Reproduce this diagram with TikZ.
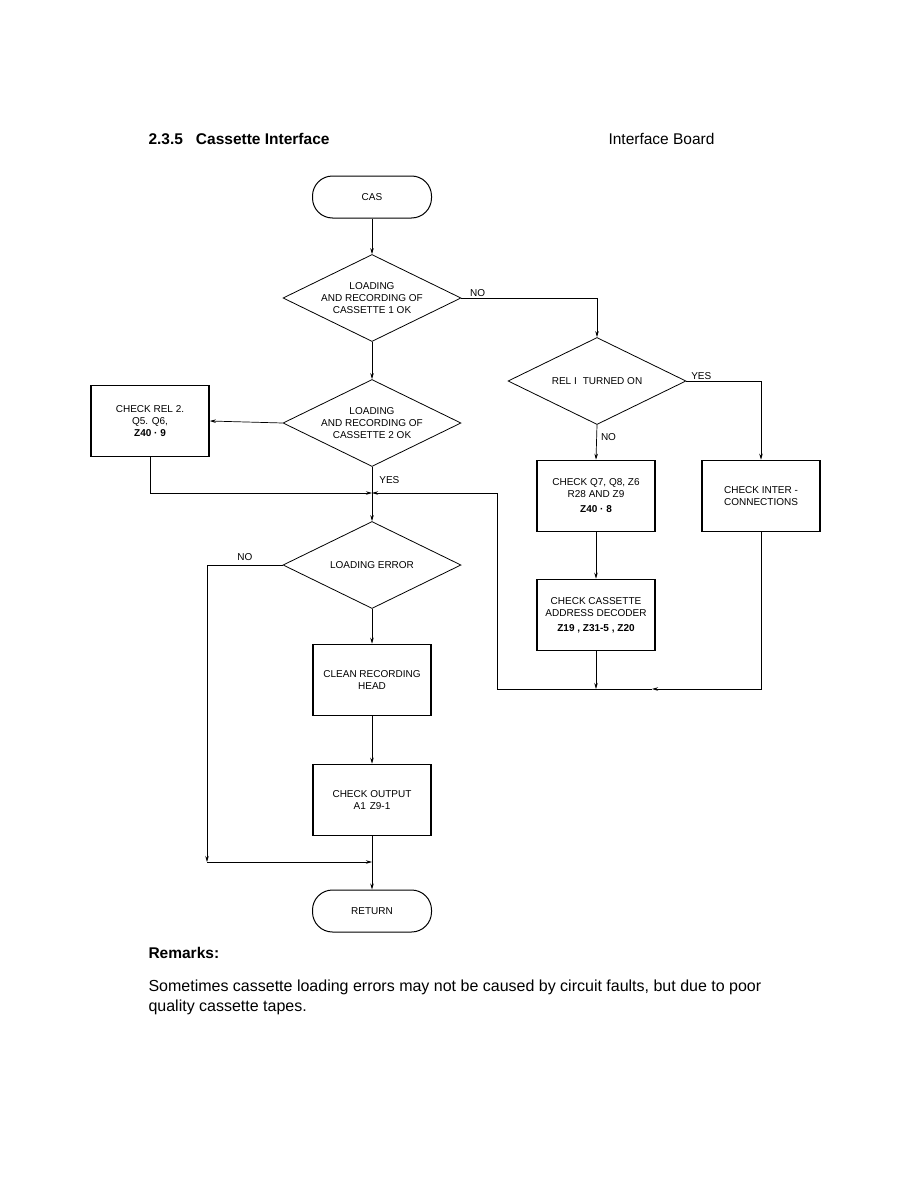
\documentclass[tikz,border=0pt]{standalone}
\usepackage{fontspec}
\setmainfont{Liberation Sans}
\usetikzlibrary{shapes.geometric, arrows.meta}

\begin{document}
\begin{tikzpicture}[x=1pt, y=-1pt,
        flow/.style={line width=0.7pt, -{Stealth[length=6pt, width=3.5pt]}},
        chart/.style={font=\fontsize{10}{12}\selectfont, align=center},
        term/.style={chart, draw, line width=1pt, rounded corners=20pt,
            minimum width=119pt, minimum height=42pt},
        decide/.style={chart, draw, line width=0.8pt, shape=diamond, aspect=2,
            minimum width=178pt, minimum height=87pt, inner sep=0pt},
        task/.style={chart, draw, line width=1.6pt, inner sep=1pt,
            minimum width=118pt, minimum height=71pt},
        lbl/.style={font=\fontsize{10}{12}\selectfont, inner sep=1pt}
    ]
    % 1. Oldal keret
    \useasboundingbox (0,0) rectangle (918,1188);

    % 2. Fejlec
    \node[anchor=west, font=\fontsize{15.5}{18}\selectfont\bfseries] (title) at (145,139)
        {2.3.5\hspace{13pt}Cassette Interface};
    \node[anchor=west, font=\fontsize{15.5}{18}\selectfont] (board) at (605,139) {Interface Board};

    % 3. Bal oszlop (fo ag)
    \node[term] (cas) at (372,197) {CAS};
    \node[decide] (load1) at (372,298) {LOADING\\AND RECORDING OF\\CASSETTE 1 OK};
    \node[decide] (load2) at (372,423) {LOADING\\AND RECORDING OF\\CASSETTE 2 OK};
    \node[task] (rel2) at (150,421) {CHECK REL 2.\\Q5. Q6,\\\textbf{Z40 · 9}};
    \node[decide] (lerr) at (372,565) {LOADING ERROR};
    \node[task] (clean) at (372,680) {CLEAN RECORDING\\HEAD};
    \node[task] (out) at (372,800) {CHECK OUTPUT\\A1\hspace{4pt}Z9-1};
    \node[term] (ret) at (372,911) {RETURN};

    % 4. Jobb oszlop
    \node[decide] (rel1) at (597,381) {REL I\hspace{6pt}TURNED ON};
    \node[task] (qchk) at (596,496) {CHECK Q7, Q8, Z6\\R28 AND Z9\\[3pt]\textbf{Z40 · 8}};
    \node[task] (inter) at (761,496) {CHECK INTER -\\CONNECTIONS};
    \node[task] (dec) at (596,615) {CHECK CASSETTE\\ADDRESS DECODER\\[3pt]\textbf{Z19 , Z31-5 , Z20}};

    % 5. Segedpontok
    \coordinate (mergeA) at (372,493);
    \coordinate (backup) at (497,493);
    \coordinate (loopB) at (497,689);
    \coordinate (midarrow) at (652,689);
    \coordinate (nocorner) at (207,862);
    \coordinate (mergeB) at (372,862);

    % 6. Osszekotesek
    \draw[flow] (cas) -- (load1);
    \draw[flow] (load1.east) -| (rel1.north) node[lbl, pos=0.06, above] {NO};
    \draw[flow] (load1) -- (load2);
    \draw[flow] (load2.west) -- (rel2.east);
    \draw[flow] (load2) -- (lerr) node[lbl, pos=0.25, right=6pt] {YES};
    \draw[flow] (rel2.south) |- (mergeA);
    \draw[flow] (rel1.east) -| (inter.north) node[lbl, pos=0.1, above] {YES};
    \draw[flow] (rel1.south) -- (qchk.north) node[lbl, pos=0.35, right=3pt] {NO};
    \draw[flow] (qchk) -- (dec);
    \draw[flow] (dec.south) -- (dec.south |- loopB);
    \draw[flow] (inter.south) |- (midarrow);
    \draw[flow] (midarrow) -- (loopB) -- (backup) -- (mergeA);
    \draw[flow] (lerr.west) -| (nocorner) node[lbl, pos=0.25, above=3pt] {NO};
    \draw[flow] (nocorner) -- (mergeB);
    \draw[flow] (lerr) -- (clean);
    \draw[flow] (clean) -- (out);
    \draw[flow] (out) -- (ret);

    % 7. Megjegyzes
    \node[anchor=west, font=\fontsize{15.5}{18}\selectfont\bfseries] (remhead) at (145,953) {Remarks:};
    \node[anchor=north west, align=left, font=\fontsize{16}{20}\selectfont] (remtext) at (145,976)
        {Sometimes cassette loading errors may not be caused by circuit faults, but due to poor\\
         quality cassette tapes.};
\end{tikzpicture}
\end{document}
